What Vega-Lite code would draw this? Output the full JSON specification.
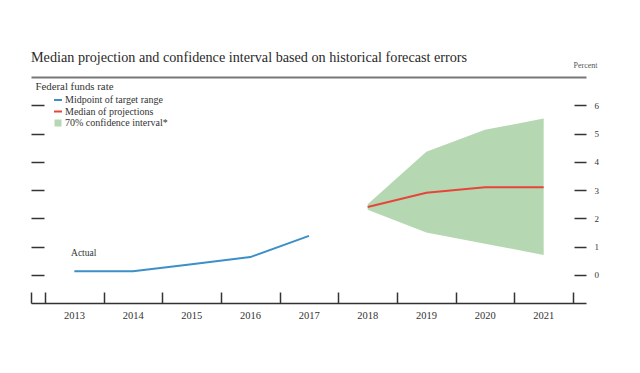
{
  "$schema": "https://vega.github.io/schema/vega-lite/v6.json",
  "width": 555,
  "height": 226,
  "autosize": "none",
  "padding": {"left": 31, "top": 77, "right": 54, "bottom": 70},
  "background": "white",
  "config": {"view": {"stroke": null}, "font": "Liberation Serif"},
  "title": {
    "text": "Median projection and confidence interval based on historical forecast errors",
    "anchor": "start",
    "frame": "group",
    "fontSize": 14.2,
    "fontWeight": "normal",
    "color": "#2a2a2a",
    "offset": -4,
    "font": "Liberation Serif"
  },
  "datasets": {
    "ci": [
      {"year": 2018, "lower": 2.3, "upper": 2.5, "band": "70% confidence interval*"},
      {"year": 2019, "lower": 1.5, "upper": 4.35, "band": "70% confidence interval*"},
      {"year": 2020, "lower": 1.1, "upper": 5.13, "band": "70% confidence interval*"},
      {"year": 2021, "lower": 0.7, "upper": 5.53, "band": "70% confidence interval*"}
    ],
    "lines": [
      {"year": 2013, "value": 0.125, "series": "Midpoint of target range"},
      {"year": 2014, "value": 0.125, "series": "Midpoint of target range"},
      {"year": 2015, "value": 0.375, "series": "Midpoint of target range"},
      {"year": 2016, "value": 0.625, "series": "Midpoint of target range"},
      {"year": 2017, "value": 1.375, "series": "Midpoint of target range"},
      {"year": 2018, "value": 2.4, "series": "Median of projections"},
      {"year": 2019, "value": 2.9, "series": "Median of projections"},
      {"year": 2020, "value": 3.1, "series": "Median of projections"},
      {"year": 2021, "value": 3.1, "series": "Median of projections"}
    ],
    "notes": [
      {"year": 2012.944, "value": 0.76, "label": "Actual"}
    ]
  },
  "layer": [
    {
      "data": {"name": "ci"},
      "mark": {"type": "area", "opacity": 1},
      "encoding": {
        "x": {
          "field": "year",
          "type": "quantitative",
          "scale": {"domain": [2012.2614, 2021.7216], "nice": false, "zero": false},
          "axis": {
            "orient": "bottom",
            "values": [2012.2614, 2012.5, 2013.5, 2014.5, 2015.5, 2016.5, 2017.5, 2018.5, 2019.5, 2020.5, 2021.5],
            "labelExpr": "datum.value > 2012.4 && datum.value < 2021 ? format(datum.value + 0.5, 'd') : ''",
            "labelOffset": 29,
            "tickSize": -11,
            "tickColor": "#333333",
            "tickWidth": 1.5,
            "domainColor": "#333333",
            "domainWidth": 1.5,
            "labelPadding": 18,
            "labelFontSize": 10.5,
            "labelColor": "#333333",
            "labelFont": "Liberation Serif",
            "labelFlush": false,
            "labelOverlap": false,
            "labelBound": false,
            "grid": false,
            "title": null
          }
        },
        "y": {
          "field": "lower",
          "type": "quantitative",
          "scale": {"domain": [-1, 7], "nice": false, "zero": false},
          "axis": {
            "orient": "left",
            "values": [0, 1, 2, 3, 4, 5, 6],
            "tickSize": -13,
            "tickColor": "#333333",
            "tickWidth": 1.5,
            "domain": false,
            "labels": false,
            "grid": false,
            "title": "Federal funds rate",
            "titleAngle": 0,
            "titleX": 4,
            "titleY": 9,
            "titleAlign": "left",
            "titleBaseline": "middle",
            "titleFontSize": 10.8,
            "titleFontWeight": "normal",
            "titleColor": "#333333",
            "titleFont": "Liberation Serif"
          }
        },
        "y2": {"field": "upper"},
        "fill": {
          "field": "band",
          "type": "nominal",
          "scale": {"range": ["#b5d7b1"]},
          "legend": {
            "orient": "none",
            "legendX": 22,
            "legendY": 41,
            "title": null,
            "symbolType": "square",
            "symbolSize": 49,
            "symbolStrokeWidth": 0,
            "labelFontSize": 10,
            "labelColor": "#333333",
            "labelFont": "Liberation Serif",
            "labelOffset": 2,
            "padding": 0
          }
        }
      }
    },
    {
      "data": {"name": "lines"},
      "mark": {"type": "line", "strokeWidth": 2},
      "encoding": {
        "x": {
          "field": "year",
          "type": "quantitative",
          "axis": {
            "orient": "top",
            "ticks": false,
            "labels": false,
            "domainColor": "#777777",
            "domainWidth": 2,
            "grid": false,
            "title": null
          }
        },
        "y": {
          "field": "value",
          "type": "quantitative",
          "axis": {
            "orient": "right",
            "values": [0, 1, 2, 3, 4, 5, 6],
            "tickSize": -12,
            "tickColor": "#333333",
            "tickWidth": 1.5,
            "domain": false,
            "grid": false,
            "labelPadding": 20,
            "labelFontSize": 9,
            "labelColor": "#333333",
            "labelFont": "Liberation Serif",
            "title": "Percent",
            "titleAngle": 0,
            "titleX": -13,
            "titleY": -12,
            "titleAlign": "left",
            "titleBaseline": "middle",
            "titleFontSize": 8,
            "titleFontWeight": "normal",
            "titleColor": "#555555",
            "titleFont": "Liberation Serif"
          }
        },
        "color": {
          "field": "series",
          "type": "nominal",
          "scale": {
            "domain": ["Midpoint of target range", "Median of projections"],
            "range": ["#3d8fc8", "#e8443a"]
          },
          "legend": {
            "orient": "none",
            "legendX": 22,
            "legendY": 18,
            "title": null,
            "symbolType": "stroke",
            "symbolStrokeWidth": 2,
            "symbolSize": 64,
            "labelFontSize": 10,
            "labelColor": "#333333",
            "labelFont": "Liberation Serif",
            "labelOffset": 2,
            "rowPadding": 1.5,
            "padding": 0
          }
        }
      }
    },
    {
      "data": {"name": "notes"},
      "mark": {"type": "text", "align": "left", "baseline": "middle", "fontSize": 9.5, "color": "#333333", "font": "Liberation Serif"},
      "encoding": {
        "x": {"field": "year", "type": "quantitative", "axis": null},
        "y": {"field": "value", "type": "quantitative", "axis": null},
        "text": {"field": "label"}
      }
    }
  ],
  "resolve": {"axis": {"x": "independent", "y": "independent"}}
}
